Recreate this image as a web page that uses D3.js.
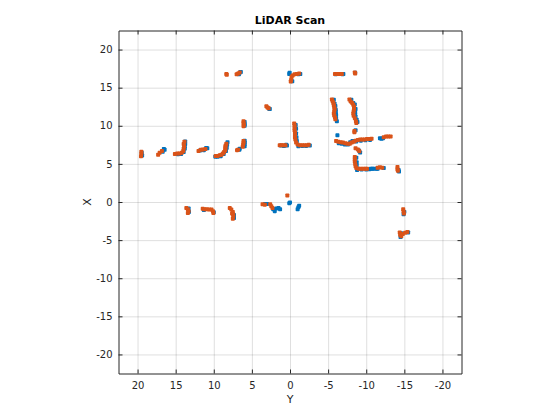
<!DOCTYPE html>
<html>
<head>
<meta charset="utf-8">
<script src="https://cdn.jsdelivr.net/npm/d3@7"></script>
<style>
  body { margin: 0; background: #fff; }
  text { font-family: "DejaVu Sans", sans-serif; fill: #262626; }
  .grid line { stroke: #262626; stroke-opacity: 0.15; }
  .grid path { display: none; }
  .axis path, .axis line { stroke: #262626; }
</style>
</head>
<body>
<div class="lidar"></div>
<script>
// LiDAR scan, two scans overlaid: [Y, X] pairs
var ticks = [-20, -15, -10, -5, 0, 5, 10, 15, 20];

var scanA = [ // blue
  [6.55, 17.0], [6.45, 17.05], [6.7, 16.75],
  [0.05, 16.95], [0.1, 16.8], [-1.35, 16.8], [-1.1, 16.75], [-0.3, 15.85],
  [2.75, 12.25], [2.65, 12.2],
  [5.95, 10.5], [5.95, 10.2], [5.95, 10.0],
  [5.95, 8.05], [5.95, 7.8], [5.95, 7.6], [5.95, 7.3],
  [6.6, 7.0], [6.65, 6.85],
  [8.2, 7.85], [8.25, 7.5], [8.3, 7.1], [8.4, 6.7], [8.7, 6.3], [9.1, 6.0], [9.5, 5.95], [9.8, 5.95],
  [10.85, 7.05], [11.0, 7.1], [11.3, 6.8], [11.8, 6.75],
  [13.75, 7.95], [13.75, 7.6], [13.8, 7.3], [13.8, 7.0], [13.95, 6.55], [14.3, 6.3], [14.7, 6.25],
  [16.55, 6.95], [16.45, 6.85], [16.7, 6.6],
  [19.45, 6.45], [19.4, 6.1],
  [1.2, 7.4], [0.5, 7.5], [0.4, 7.4], [0.8, 7.35],
  [-0.75, 10.1], [-0.8, 9.6], [-0.8, 9.0], [-0.85, 8.5], [-0.9, 8.0],
  [-1.1, 7.3], [-1.6, 7.35], [-2.1, 7.35], [-2.6, 7.4],
  [-6.0, 16.75], [-6.9, 16.75], [-7.0, 16.8],
  [-8.55, 16.95],
  [-5.75, 13.4], [-5.85, 12.9], [-5.95, 12.6], [-6.0, 12.1], [-6.0, 11.9], [-6.0, 11.6], [-6.05, 11.4], [-6.05, 11.0], [-6.15, 10.6],
  [-8.05, 13.4], [-8.3, 13.0], [-8.5, 12.8], [-8.6, 12.2], [-8.55, 11.8], [-8.55, 11.5], [-8.6, 11.2], [-8.75, 10.8], [-8.85, 10.5],
  [-8.6, 9.4],
  [-6.22, 8.75],
  [-6.4, 7.7], [-6.8, 7.65], [-7.2, 7.55], [-7.6, 7.55], [-7.9, 7.85], [-8.2, 8.0], [-8.7, 7.95], [-9.3, 8.05], [-9.9, 8.1], [-10.5, 8.15],
  [-11.8, 8.35], [-12.0, 8.3], [-12.2, 8.35],
  [-9.2, 6.5], [-9.05, 6.75],
  [-8.7, 5.8], [-8.75, 5.2], [-8.75, 4.8], [-8.8, 4.2], [-9.4, 4.25], [-10.0, 4.25],
  [-10.4, 4.3], [-10.6, 4.35], [-10.8, 4.35], [-11.0, 4.35],
  [-11.35, 4.35], [-11.5, 4.35], [-12.3, 4.45],
  [-14.3, 4.0], [-14.25, 4.2],
  [13.3, -0.85], [13.25, -1.3],
  [10.0, -1.35], [11.3, -1.05],
  [7.35, -1.7], [7.35, -2.1],
  [3.3, -0.25], [3.0, -0.25], [2.2, -0.95], [2.0, -1.2], [1.8, -0.85], [1.5, -0.8], [1.3, -0.95],
  [0.1, -0.15], [0.0, -0.05],
  [-1.1, -0.7], [-1.2, -0.5], [-1.0, -0.95],
  [-14.9, -1.6], [-15.0, -1.3],
  [-14.6, -4.1], [-15.5, -4.0], [-14.5, -4.6]
];

var scanB = [ // orange
  [8.35, 16.8], [8.3, 16.7],
  [7.0, 16.75], [6.8, 16.85], [6.6, 17.0],
  [-0.2, 16.4], [-0.35, 16.6], [-0.6, 16.75], [-0.9, 16.8], [-1.2, 16.85], [-0.15, 16.0], [-0.1, 15.8],
  [3.1, 12.55], [2.95, 12.4], [2.8, 12.3],
  [6.1, 10.6], [6.1, 10.35], [6.05, 10.1], [6.1, 9.95],
  [6.1, 8.0], [6.1, 7.75], [6.15, 7.5], [6.2, 7.25],
  [6.82, 6.87], [6.95, 6.8],
  [8.35, 7.65], [8.45, 7.4], [8.48, 7.2], [8.48, 7.0], [8.5, 6.78], [8.65, 6.55], [8.8, 6.35], [9.0, 6.2], [9.22, 6.13], [9.5, 6.05], [9.75, 6.04],
  [12.0, 6.7], [11.7, 6.85], [11.4, 6.9], [11.1, 6.95],
  [15.1, 6.3], [14.8, 6.35], [14.5, 6.35], [14.2, 6.45], [14.0, 6.7], [13.95, 7.0], [13.9, 7.3], [13.95, 7.6], [13.85, 7.9],
  [17.3, 6.2], [17.1, 6.45], [16.8, 6.7],
  [19.5, 6.6], [19.5, 6.3], [19.55, 6.0],
  [1.35, 7.45], [1.1, 7.45], [0.85, 7.45], [0.6, 7.45],
  [-0.55, 10.3], [-0.6, 10.0], [-0.6, 9.7], [-0.6, 9.4], [-0.65, 9.1], [-0.65, 8.8], [-0.65, 8.5], [-0.7, 8.2], [-0.8, 7.8],
  [-1.0, 7.55], [-1.3, 7.45], [-1.6, 7.45], [-1.9, 7.45], [-2.2, 7.45], [-2.45, 7.5],
  [-5.9, 16.8], [-6.2, 16.8], [-6.5, 16.8], [-6.8, 16.8],
  [-8.5, 17.0], [-8.55, 16.85],
  [-5.5, 13.45], [-5.6, 13.2], [-5.7, 12.95], [-5.75, 12.7], [-5.8, 12.45], [-5.85, 12.2], [-5.8, 11.9], [-5.75, 11.6], [-5.8, 11.35], [-5.9, 11.1], [-5.95, 10.85],
  [-7.8, 13.45], [-7.95, 13.2], [-8.15, 13.0], [-8.3, 12.75], [-8.4, 12.5], [-8.4, 12.2], [-8.35, 11.9], [-8.3, 11.6], [-8.35, 11.3], [-8.5, 11.0], [-8.65, 10.6], [-8.7, 10.35],
  [-8.45, 9.3], [-8.45, 9.15],
  [-6.05, 8.0], [-6.35, 7.9], [-6.65, 7.85], [-6.95, 7.8], [-7.25, 7.7], [-7.55, 7.65], [-7.85, 7.65], [-8.1, 7.8], [-8.35, 7.9], [-8.6, 8.05],
  [-8.9, 8.15], [-9.2, 8.2], [-9.5, 8.2], [-9.8, 8.2], [-10.1, 8.25], [-10.4, 8.25], [-10.7, 8.3],
  [-12.3, 8.5], [-12.6, 8.6], [-12.9, 8.6], [-13.2, 8.6],
  [-8.6, 7.05], [-8.9, 6.9], [-9.1, 6.65],
  [-8.5, 5.9], [-8.5, 5.6], [-8.5, 5.3], [-8.55, 5.0], [-8.6, 4.7], [-8.7, 4.45], [-9.0, 4.35], [-9.3, 4.35], [-9.6, 4.35], [-9.9, 4.35], [-10.1, 4.35],
  [-11.5, 4.5], [-11.8, 4.55], [-12.1, 4.5],
  [-14.1, 4.6], [-14.1, 4.3], [-14.15, 4.1],
  [13.6, -0.8], [13.4, -0.95], [13.3, -1.2], [13.4, -1.45],
  [11.45, -0.9], [11.2, -0.95], [10.9, -0.95], [10.6, -1.0], [10.3, -1.0], [10.1, -1.2], [10.05, -1.45],
  [7.9, -0.8], [7.7, -1.0], [7.5, -1.3], [7.45, -1.6], [7.45, -1.9], [7.5, -2.2], [7.6, -1.5],
  [3.6, -0.3], [3.3, -0.35], [2.6, -0.3], [2.45, -0.55], [2.3, -0.8],
  [0.35, 0.85],
  [-14.85, -0.95], [-14.9, -1.25], [-14.95, -1.5],
  [-14.4, -4.0], [-14.45, -4.3], [-14.6, -4.5], [-14.8, -4.2], [-15.1, -4.05], [-15.4, -3.95]
];

var W = 560, H = 420;
var box = { left: 118.5, top: 30.5, right: 461.5, bottom: 373.5 };
var mark = 4;

var svg = d3.select('.lidar')
    .append('svg')
    .attr('width', W)
    .attr('height', H);

var xRange = d3.scaleLinear().domain([22.5, -22.5]).range([box.left, box.right]);
var yRange = d3.scaleLinear().domain([-22.5, 22.5]).range([box.bottom, box.top]);

var boxW = box.right - box.left,
    boxH = box.bottom - box.top;

// grid
svg.append('g')
    .attr('class', 'grid')
    .attr('transform', 'translate(0,' + box.bottom + ')')
    .call(d3.axisBottom(xRange).tickValues(ticks).tickSize(-boxH).tickFormat(''));

svg.append('g')
    .attr('class', 'grid')
    .attr('transform', 'translate(' + box.left + ',0)')
    .call(d3.axisLeft(yRange).tickValues(ticks).tickSize(-boxW).tickFormat(''));

// points
function drawScan(data, colour) {
    svg.append('g').selectAll('rect')
        .data(data)
        .enter()
        .append('rect')
        .attr('x', function(d) { return xRange(d[0]) - mark / 2; })
        .attr('y', function(d) { return yRange(d[1]) - mark / 2; })
        .attr('width', mark)
        .attr('height', mark)
        .attr('rx', 0.8)
        .attr('fill', colour);
}
drawScan(scanA, '#0072BD');
drawScan(scanB, '#D95319');

// axes with inward ticks
var fmt = function(d) { return String(d); };

svg.append('g')
    .attr('class', 'axis')
    .attr('transform', 'translate(0,' + box.bottom + ')')
    .call(d3.axisBottom(xRange).tickValues(ticks).tickSizeInner(-4).tickSizeOuter(0).tickPadding(8).tickFormat(fmt));

svg.append('g')
    .attr('class', 'axis')
    .attr('transform', 'translate(0,' + box.top + ')')
    .call(d3.axisTop(xRange).tickValues(ticks).tickSizeInner(-4).tickSizeOuter(0).tickFormat(''));

svg.append('g')
    .attr('class', 'axis')
    .attr('transform', 'translate(' + box.left + ',0)')
    .call(d3.axisLeft(yRange).tickValues(ticks).tickSizeInner(-4).tickSizeOuter(0).tickPadding(6).tickFormat(fmt));

svg.append('g')
    .attr('class', 'axis')
    .attr('transform', 'translate(' + box.right + ',0)')
    .call(d3.axisRight(yRange).tickValues(ticks).tickSizeInner(-4).tickSizeOuter(0).tickFormat(''));

svg.selectAll('.axis text').style('font-size', '10px');

// labels
svg.append('text')
    .attr('x', (box.left + box.right) / 2)
    .attr('y', 24)
    .attr('text-anchor', 'middle')
    .style('font-size', '11px')
    .style('font-weight', 'bold')
    .style('fill', '#000')
    .text('LiDAR Scan');

svg.append('text')
    .attr('x', (box.left + box.right) / 2)
    .attr('y', 403)
    .attr('text-anchor', 'middle')
    .style('font-size', '11px')
    .text('Y');

svg.append('text')
    .attr('transform', 'translate(91,' + ((box.top + box.bottom) / 2) + ') rotate(-90)')
    .attr('text-anchor', 'middle')
    .style('font-size', '11px')
    .text('X');
</script>
</body>
</html>
